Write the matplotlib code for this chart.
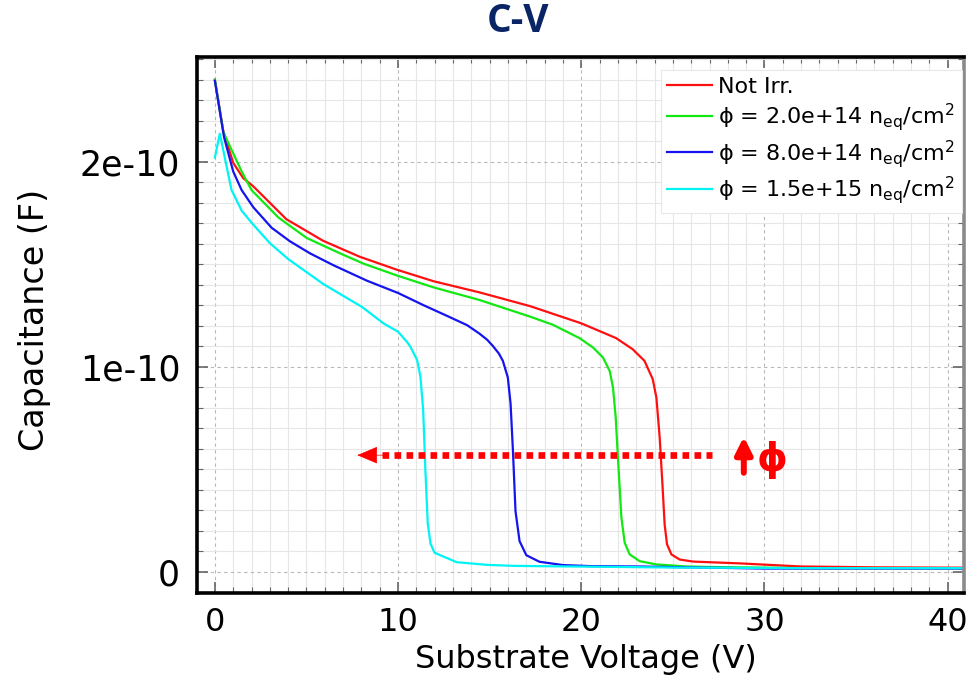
"""
C-V curves of the sensor before and after irradiation
"""

import matplotlib
matplotlib.use('Agg')
import matplotlib.pyplot as plt
from matplotlib.ticker import MultipleLocator, FixedLocator, FixedFormatter
import numpy as np

# capacitance values below are in units of 1e-10 F
SCALE = 1e-10

v_notirr = [0, 0.46, 1.0, 1.55, 2.1, 3.9, 5.9, 7.9, 9.95, 11.95, 14.44, 17.2, 20.0,
            21.9, 22.8, 23.45, 23.9, 24.1, 24.28, 24.43, 24.55, 24.68, 24.92, 25.37,
            26.1, 28.7, 32.0, 36.0, 41.5]
c_notirr = [2.40, 2.15, 1.995, 1.92, 1.88, 1.72, 1.615, 1.537, 1.473, 1.417, 1.363, 1.296, 1.212,
            1.14, 1.086, 1.029, 0.94, 0.85, 0.655, 0.427, 0.231, 0.134, 0.085, 0.06,
            0.05, 0.041, 0.026, 0.022, 0.02]

v_2e14 = [0, 0.46, 1.46, 2.0, 3.47, 5.02, 6.84, 8.12, 9.95, 11.95, 14.44, 17.23, 18.45,
          19.9, 20.64, 21.18, 21.55, 21.73, 21.88, 22.0, 22.19, 22.37, 22.64, 23.19,
          24.1, 25.74, 26.85, 32.0, 41.5]
c_2e14 = [2.40, 2.145, 1.953, 1.862, 1.728, 1.628, 1.553, 1.503, 1.445, 1.387, 1.326, 1.244, 1.205,
          1.14, 1.094, 1.046, 0.98, 0.90, 0.752, 0.557, 0.264, 0.142, 0.085, 0.052,
          0.036, 0.026, 0.024, 0.018, 0.018]

v_8e14 = [0, 0.5, 1.0, 1.46, 2.1, 3.1, 4.1, 5.2, 6.48, 8.3, 10.0, 11.4, 12.68, 13.77,
          14.44, 14.86, 15.17, 15.5, 15.72, 15.87, 15.99, 16.14, 16.27, 16.41, 16.63,
          17.0, 17.72, 19.0, 20.46, 23.2, 29.95, 41.5]
c_8e14 = [2.395, 2.12, 1.953, 1.862, 1.778, 1.678, 1.612, 1.553, 1.495, 1.42, 1.36, 1.3, 1.248, 1.203,
          1.162, 1.132, 1.102, 1.065, 1.029, 0.984, 0.948, 0.821, 0.59, 0.296, 0.15,
          0.081, 0.049, 0.033, 0.028, 0.026, 0.016, 0.016]

v_15e15 = [0, 0.27, 0.64, 0.91, 1.46, 2.0, 3.0, 4.01, 5.93, 8.03, 9.2, 10.0, 10.5,
           10.67, 11.04, 11.22, 11.37, 11.49, 11.62, 11.77, 11.99, 13.2, 14.86, 16.32,
           25.0, 32.0, 41.5]
c_15e15 = [2.02, 2.137, 1.978, 1.862, 1.762, 1.703, 1.603, 1.525, 1.403, 1.292, 1.212, 1.171, 1.12,
           1.098, 1.033, 0.951, 0.789, 0.496, 0.236, 0.138, 0.093, 0.047, 0.034, 0.029,
           0.021, 0.018, 0.018]

labels = ['Not Irr.',
          r'ϕ = 2.0e+14 n$_{\mathregular{eq}}$/cm$^{\mathregular{2}}$',
          r'ϕ = 8.0e+14 n$_{\mathregular{eq}}$/cm$^{\mathregular{2}}$',
          r'ϕ = 1.5e+15 n$_{\mathregular{eq}}$/cm$^{\mathregular{2}}$']
colors = ['#ff1010', '#12e812', '#1414f0', '#00f4f4']

x_ticks = [0, 10, 20, 30, 40]
y_ticks = [0, 1e-10, 2e-10]
y_ticklabels = ['0', '1e-10', '2e-10']

plt.rcParams['font.family'] = ['DejaVu Sans']
plt.rcParams['mathtext.fontset'] = 'dejavusans'

fig = plt.figure(figsize=(9.7, 6.81), dpi=100)
ax = fig.add_axes([0.203, 0.129, 0.791, 0.787])

series = [(v_notirr, c_notirr), (v_2e14, c_2e14), (v_8e14, c_8e14), (v_15e15, c_15e15)]
for (v, c), lab, col in zip(series, labels, colors):
    ax.plot(v, np.array(c) * SCALE, color=col, lw=1.6, label=lab)

ax.set_xlim(-0.98, 40.9)
ax.set_ylim(-0.104e-10, 2.51e-10)

ax.xaxis.set_major_locator(FixedLocator(x_ticks))
ax.xaxis.set_minor_locator(MultipleLocator(1))
ax.yaxis.set_major_locator(FixedLocator(y_ticks))
ax.yaxis.set_major_formatter(FixedFormatter(y_ticklabels))
ax.yaxis.set_minor_locator(MultipleLocator(0.1e-10))

ax.grid(which='major', color='#b8b8b8', lw=0.8, ls=(0, (3, 3)))
ax.grid(which='minor', color='#e6e6e6', lw=0.8, ls='-')
ax.set_axisbelow(True)

ax.tick_params(which='both', direction='in', top=True, right=True, color='#666666')
ax.tick_params(which='major', length=8, width=1.2)
ax.tick_params(which='minor', length=4, width=0.8)
ax.tick_params(axis='x', labelsize=23, pad=10)
ax.tick_params(axis='y', labelsize=25, pad=12)

for side in ['left', 'bottom', 'top']:
    ax.spines[side].set_linewidth(2.6)
    ax.spines[side].set_color('black')
ax.spines['right'].set_linewidth(2.6)
ax.spines['right'].set_color('#8a8a8a')

ax.set_xlabel('Substrate Voltage (V)', fontsize=23)
ax.set_ylabel('Capacitance (F)', fontsize=24)
ax.xaxis.set_label_coords(0.507, -0.095)
ax.yaxis.set_label_coords(-0.19, 0.51)

leg = ax.legend(loc='upper right', bbox_to_anchor=(0.997, 0.976), fontsize=16,
                frameon=True, fancybox=False, framealpha=1, edgecolor='#e8e8e8',
                handlelength=2.0, handletextpad=0.3, labelspacing=0.2,
                borderpad=0.3, borderaxespad=0)
leg.get_frame().set_linewidth(0.8)

# dotted arrow: depletion voltage moves left as fluence grows
y_arr = 0.569e-10
ax.plot([9.11, 27.14], [y_arr, y_arr], color='red', lw=4.8,
        ls=(0, (1, 0.8)), dash_capstyle='butt')
ax.annotate('', xy=(7.77, y_arr), xytext=(9.2, y_arr),
            arrowprops=dict(arrowstyle='-|>,head_length=0.95,head_width=0.4',
                            color='red', lw=0.5, shrinkA=0, shrinkB=0,
                            mutation_scale=14))
ax.annotate('', xy=(28.87, 0.659e-10), xytext=(28.87, 0.483e-10),
            arrowprops=dict(arrowstyle='-|>,head_length=0.5,head_width=0.25',
                            color='red', lw=4.3, shrinkA=0, shrinkB=0,
                            mutation_scale=20))
ax.text(30.42, 0.545e-10, 'ϕ', color='red', fontsize=28, fontweight='bold',
        ha='center', va='center')

fig.text(0.534, 0.969, 'C-V', ha='center', va='center', fontsize=28,
         fontweight='bold', color='#0a2566', family=['Open Sans', 'DejaVu Sans'])

fig.savefig('out.png', dpi=100)
